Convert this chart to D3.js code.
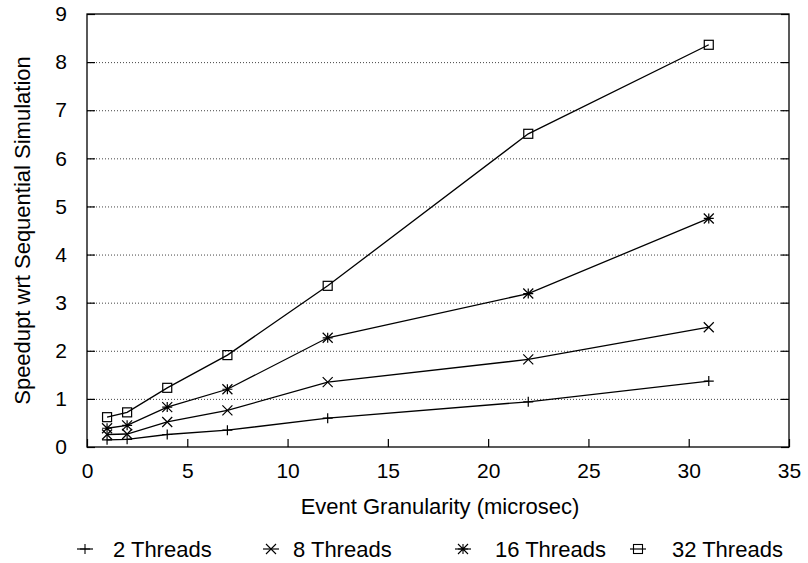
<!DOCTYPE html>
<html>
<head>
<meta charset="utf-8">
<script src="https://cdn.jsdelivr.net/npm/d3@7"></script>
<style>
  html, body { margin: 0; padding: 0; background: #fff; }
  svg { display: block; }
  text { font-family: "Liberation Sans", Arial, Helvetica, sans-serif; fill: #000; }
</style>
</head>
<body>
<svg id="chart" width="808" height="563"></svg>
<script>
// ---- data ----
const granularity = [1, 2, 4, 7, 12, 22, 31];
const threads2  = [0.15, 0.16, 0.26, 0.35, 0.60, 0.94, 1.37];
const threads8  = [0.26, 0.27, 0.52, 0.76, 1.35, 1.82, 2.49];
const threads16 = [0.39, 0.45, 0.83, 1.20, 2.27, 3.19, 4.75];
const threads32 = [0.62, 0.72, 1.23, 1.91, 3.35, 6.51, 8.36];
const seriesNames = ["2 Threads", "8 Threads", "16 Threads", "32 Threads"];
const xTicks = [0, 5, 10, 15, 20, 25, 30, 35];
const yTicks = [0, 1, 2, 3, 4, 5, 6, 7, 8, 9];

const series = [
  { name: seriesNames[0], values: threads2,  marker: "plus" },
  { name: seriesNames[1], values: threads8,  marker: "cross" },
  { name: seriesNames[2], values: threads16, marker: "star" },
  { name: seriesNames[3], values: threads32, marker: "box" }
];

const svg = d3.select("#chart");
const m = { left: 87, right: 19, top: 14, bottom: 116 };
const W = 808, H = 563;
const x = d3.scaleLinear().domain([0, 35]).range([m.left, W - m.right]);
const y = d3.scaleLinear().domain([0, 9]).range([H - m.bottom, m.top]);

// grid
svg.append("g").selectAll("line").data(yTicks.filter(d => d > 0 && d < 9)).join("line")
  .attr("x1", x(0)).attr("x2", x(35))
  .attr("y1", d => y(d) + 0.5).attr("y2", d => y(d) + 0.5)
  .attr("stroke", "#444").attr("stroke-width", 1).attr("stroke-dasharray", "1,2");

// frame
svg.append("rect")
  .attr("x", x(0)).attr("y", y(9))
  .attr("width", x(35) - x(0)).attr("height", y(0) - y(9))
  .attr("fill", "none").attr("stroke", "#000").attr("stroke-width", 1.3);

// axes with inward ticks
const tickFont = "21px";
const gx = svg.append("g").attr("transform", `translate(0,${y(0)})`)
  .call(d3.axisBottom(x).tickValues(xTicks).tickSize(-8).tickFormat(d3.format("d")));
const gy = svg.append("g").attr("transform", `translate(${x(0)},0)`)
  .call(d3.axisLeft(y).tickValues(yTicks).tickSize(-8).tickPadding(20).tickFormat(d3.format("d")));
const gyr = svg.append("g").attr("transform", `translate(${x(35)},0)`)
  .call(d3.axisRight(y).tickValues(yTicks).tickSize(-8).tickFormat(""));
[gx, gy, gyr].forEach(g => {
  g.select(".domain").remove();
  g.selectAll(".tick line").attr("stroke", "#000").attr("stroke-width", 1.2);
  g.selectAll(".tick text").style("font-size", tickFont).attr("fill", "#000");
});
gx.selectAll(".tick text").attr("y", 31).attr("dy", 0);

// axis titles
svg.append("text").attr("x", (x(0) + x(35)) / 2 + 2).attr("y", 514)
  .attr("text-anchor", "middle").style("font-size", "22px")
  .text("Event Granularity (microsec)");
svg.append("text").attr("transform", `translate(30,${(y(0) + y(9)) / 2}) rotate(-90)`)
  .attr("text-anchor", "middle").style("font-size", "22px")
  .text("Speedupt wrt Sequential Simulation");

// markers
function drawMarker(g, type, cx, cy) {
  const s = 5;
  if (type === "plus") {
    g.append("path").attr("d", `M${cx - s},${cy}H${cx + s}M${cx},${cy - s}V${cy + s}`);
  } else if (type === "cross") {
    g.append("path").attr("d", `M${cx - s},${cy - s}L${cx + s},${cy + s}M${cx - s},${cy + s}L${cx + s},${cy - s}`);
  } else if (type === "star") {
    g.append("path").attr("d", `M${cx - s},${cy}H${cx + s}M${cx},${cy - s}V${cy + s}M${cx - s},${cy - s}L${cx + s},${cy + s}M${cx - s},${cy + s}L${cx + s},${cy - s}`);
  } else {
    g.append("rect").attr("x", cx - 4.5).attr("y", cy - 4.5).attr("width", 9).attr("height", 9).attr("fill", "none");
  }
}

const line = d3.line().x(d => x(d[0])).y(d => y(d[1]));
series.forEach(s => {
  const pts = granularity.map((g, i) => [g, s.values[i]]);
  svg.append("path").datum(pts).attr("d", line)
    .attr("fill", "none").attr("stroke", "#000").attr("stroke-width", 1.3);
  const mg = svg.append("g").attr("stroke", "#000").attr("stroke-width", 1.2).attr("fill", "none");
  pts.forEach(p => drawMarker(mg, s.marker, x(p[0]), y(p[1])));
});

// legend
const legendX = [85, 271, 463, 638];
const legendTextX = [113, 293, 495, 672];
const ly = 549;
series.forEach((s, i) => {
  const g = svg.append("g");
  g.append("line").attr("x1", legendX[i] - 8).attr("x2", legendX[i] + 8)
    .attr("y1", ly).attr("y2", ly).attr("stroke", "#000").attr("stroke-width", 1.2);
  const mg = g.append("g").attr("stroke", "#000").attr("stroke-width", 1.1).attr("fill", "none");
  drawMarker(mg, s.marker, legendX[i], ly);
  g.append("text").attr("x", legendTextX[i]).attr("y", ly).attr("dy", "0.36em")
    .style("font-size", "22px").text(s.name);
});
</script>
</body>
</html>
